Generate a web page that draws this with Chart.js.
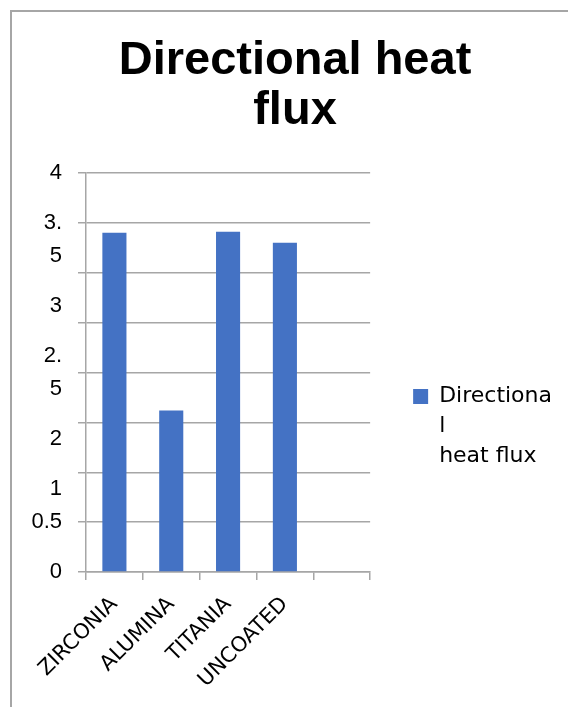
<!DOCTYPE html>
<html>
<head>
<meta charset="utf-8">
<script src="https://cdn.jsdelivr.net/npm/chart.js@4"></script>
<style>
  body { margin: 0; background: #fff; }
  .wrap { position: relative; width: 568px; height: 707px; overflow: hidden; }
  .frame { position: absolute; left: 10px; top: 10px; width: 700px; height: 800px;
           border-top: 2px solid #a6a6a6; border-left: 2px solid #a6a6a6; }
  canvas { position: absolute; left: 0; top: 0; }
</style>
</head>
<body>
<div class="wrap">
  <div class="frame"></div>
  <canvas id="chart" width="568" height="707"></canvas>
</div>
<script>
// Данные графика
const categories = ['ZIRCONIA', 'ALUMINA', 'TITANIA', 'UNCOATED', ''];
const heatFlux = [3.40, 1.62, 3.41, 3.30, null];
const seriesName = 'Directional heat flux';
const legendLines = ['Directiona', 'l', 'heat flux'];
const titleLines = ['Directional heat', 'flux'];
// Подписи оси Y (снизу вверх), как на картинке
const yTickLabels = ['0', '0.5', '1', '', '2', ['2.', '5'], '3', ['3.', '5'], '4'];
// сколько пустых строк сверху у подписи (съехавшие подписи)
const yLabelShift = [0, 0, 1, 0, 4, 3, 2, 1, 0];

const grey = '#a6a6a6';

let context = document.getElementById('chart').getContext('2d');

let chart = new Chart(context, {
  type: 'bar',
  data: {
    labels: categories,
    datasets: [{
      label: seriesName,
      data: heatFlux,
      backgroundColor: '#4472C4',
      borderWidth: 0,
      barPercentage: 0.53,
      categoryPercentage: 0.8
    }]
  },
  options: {
    responsive: false,
    animation: false,
    layout: { padding: { left: 28, right: 6, top: 10, bottom: 10 } },
    plugins: {
      tooltip: { enabled: false },
      title: {
        display: true,
        text: titleLines,
        color: '#000',
        font: { family: 'Liberation Sans', size: 47, weight: 'bold', lineHeight: 50 / 47 },
        padding: { top: 26, bottom: 37 }
      },
      legend: {
        position: 'right',
        maxWidth: 230,
        title: { display: true, text: '', font: { size: 10, lineHeight: 1 }, padding: 72 },
        labels: {
          boxWidth: 15,
          boxHeight: 15,
          padding: 43,
          color: '#000',
          font: { family: 'DejaVu Sans', size: 22, lineHeight: 30 / 22 },
          generateLabels: function(ch) {
            // переносим подпись легенды как в оригинале
            let items = Chart.defaults.plugins.legend.labels.generateLabels(ch);
            items.forEach(it => { it.text = legendLines; it.lineWidth = 0; });
            return items;
          }
        }
      }
    },
    scales: {
      x: {
        afterFit: function(scale) { scale.height = 125; },
        grid: { display: true, drawOnChartArea: false, drawTicks: true, tickLength: 8, color: grey, lineWidth: 1.5 },
        border: { display: true, color: grey, width: 1.5 },
        ticks: {
          minRotation: 45,
          maxRotation: 45,
          autoSkip: false,
          padding: 12,
          color: '#000',
          font: { family: 'DejaVu Sans', size: 21 }
        }
      },
      y: {
        min: 0,
        max: 4,
        afterFit: function(scale) { scale.width = 58; },
        grid: { color: grey, lineWidth: 1.5, drawTicks: true, tickLength: 8 },
        border: { display: true, color: grey, width: 1.5 },
        ticks: {
          stepSize: 0.5,
          autoSkip: false,
          padding: 16,
          color: '#000',
          font: { family: 'Liberation Sans', size: 22, lineHeight: 33 / 22 },
          callback: function(value, index) {
            let lbl = yTickLabels[index];
            let lines = Array.isArray(lbl) ? lbl.slice() : [lbl];
            for (let i = 0; i < yLabelShift[index]; i++) lines.unshift('');
            return lines;
          }
        }
      }
    }
  }
});
</script>
</body>
</html>
